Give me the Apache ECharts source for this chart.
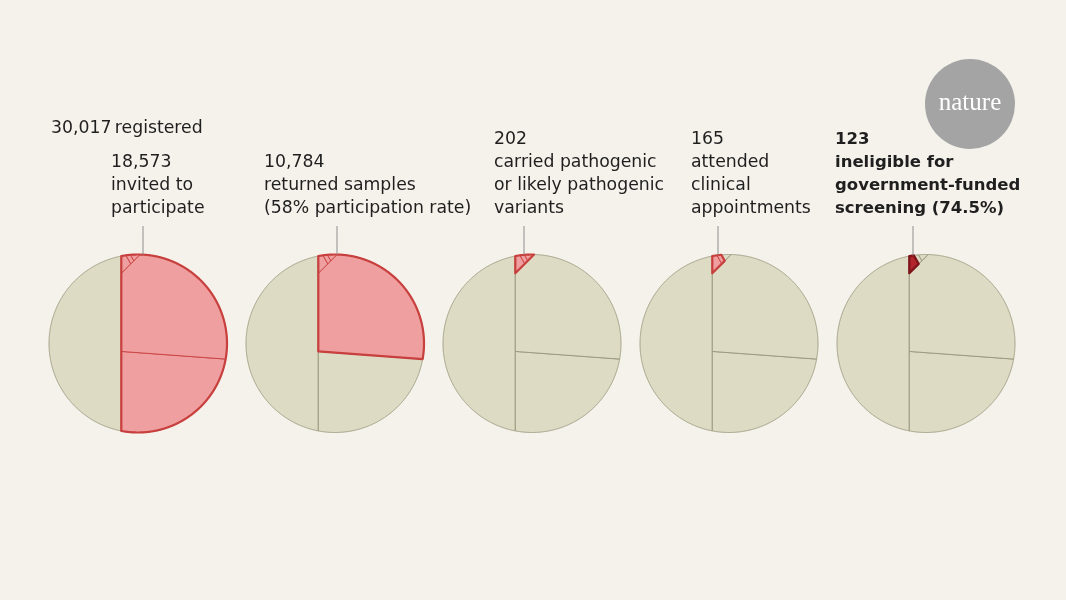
<!DOCTYPE html>
<html>
<head>
<meta charset="utf-8">
<script src="https://cdn.jsdelivr.net/npm/echarts@6/dist/echarts.min.js"></script>
<style>
html,body{margin:0;padding:0;background:#f5f2eb;}
#chart{width:1066px;height:600px;}
</style>
</head>
<body>
<div id="chart"></div>
<script>
// ---- data ----
const registered = 30017;
const registeredLabel = '30,017';
const stages = ['invited', 'returned', 'carried', 'attended', 'ineligible'];
const stageCounts = [18573, 10784, 202, 165, 123];
const stageNumberLabels = ['18,573', '10,784', '202', '165', '123'];
const stageTexts = [
  ['invited to', 'participate'],
  ['returned samples', '(58% participation rate)'],
  ['carried pathogenic', 'or likely pathogenic', 'variants'],
  ['attended', 'clinical', 'appointments'],
  ['ineligible for', 'government-funded', 'screening (74.5%)']
];

// ---- styles / layout ----
const BG = '#f5f2eb', BEIGE = '#dedbc5', OLIVE = '#97957a', PINK = '#ef9fa0',
      RED = '#c8403e', DARK = '#b2252c', DARKSTROKE = '#7e1419', TEXT = '#1f1f1f', LEADER = '#8e8e8e';
const FONT = '"DejaVu Sans", Inter, sans-serif';
const FS = 17.3, FS_BOLD = 16.5;
const textX = [111, 264, 494, 691, 835];
const rowY = [140, 163, 186, 209];
const leaderDx = [5, 2, -8, -11, -13];
const leaderTop = 226;
// split-line normals (unit circle coords, y up)
const deg = Math.PI / 180;
const splitNormals = [
  [1, 0],
  [Math.sin(4.2 * deg), Math.cos(4.2 * deg)],
  [-Math.SQRT1_2, Math.SQRT1_2],
  [-23 / Math.hypot(23, 13), -13 / Math.hypot(23, 13)],
  [-23 / Math.hypot(23, 13), -13 / Math.hypot(23, 13)]
];

// ---- geometry: partition a circle into areas proportional to counts ----
function area(poly) {
  let a = 0;
  for (let i = 0; i < poly.length; i++) {
    const p = poly[i], q = poly[(i + 1) % poly.length];
    a += p[0] * q[1] - q[0] * p[1];
  }
  return Math.abs(a) / 2;
}
function clip(poly, n, c, sign) {
  const out = [];
  const f = p => sign * (n[0] * p[0] + n[1] * p[1] - c);
  for (let i = 0; i < poly.length; i++) {
    const p = poly[i], q = poly[(i + 1) % poly.length];
    const fp = f(p), fq = f(q);
    if (fp >= 0) out.push(p);
    if ((fp >= 0) !== (fq >= 0)) {
      const t = fp / (fp - fq);
      out.push([p[0] + t * (q[0] - p[0]), p[1] + t * (q[1] - p[1])]);
    }
  }
  return out;
}
function split(poly, n, frac) {
  const proj = poly.map(p => n[0] * p[0] + n[1] * p[1]);
  let lo = Math.min(...proj), hi = Math.max(...proj);
  const total = area(poly);
  for (let it = 0; it < 80; it++) {
    const mid = (lo + hi) / 2;
    const a = area(clip(poly, n, mid, 1)) / total;
    if (a > frac) lo = mid; else hi = mid;
  }
  const c = (lo + hi) / 2;
  return [clip(poly, n, c, 1), clip(poly, n, c, -1)];
}
const circle = [];
for (let i = 0; i < 1440; i++) {
  const a = Math.PI / 2 - i / 1440 * 2 * Math.PI;
  circle.push([Math.cos(a), Math.sin(a)]);
}
const nodes = [];   // highlighted region for each stage
const leaves = [];  // remainder regions
let current = circle, parentCount = registered;
stageCounts.forEach((cnt, i) => {
  const [inside, rest] = split(current, splitNormals[i], cnt / parentCount);
  leaves.push(rest);
  nodes.push(inside);
  current = inside;
  parentCount = cnt;
});
leaves.push(current);

function topYAt(poly, x) {
  let best = -Infinity;
  for (let i = 0; i < poly.length; i++) {
    const p = poly[i], q = poly[(i + 1) % poly.length];
    if ((p[0] - x) * (q[0] - x) <= 0 && p[0] !== q[0]) {
      const t = (x - p[0]) / (q[0] - p[0]);
      best = Math.max(best, p[1] + t * (q[1] - p[1]));
    }
  }
  return best;
}

function renderItem(params, api) {
  const k = api.value(0);
  const c = api.coord([k, 0]);
  const R = api.size([0, 1])[1];
  const map = poly => poly.map(p => [c[0] + p[0] * R, c[1] - p[1] * R]);
  const children = [];
  const order = leaves.map((l, j) => j).sort((a, b) => (a >= k + 1) - (b >= k + 1));
  order.forEach(j => {
    const hi = j >= k + 1;
    const dark = k === 4 && j === 5;
    children.push({
      type: 'polygon', shape: { points: map(leaves[j]) },
      style: { fill: dark ? DARK : (hi ? PINK : BEIGE), stroke: dark ? DARKSTROKE : (hi ? RED : OLIVE), lineWidth: 0.9 }
    });
  });
  children.push({
    type: 'polygon', shape: { points: map(nodes[k]) },
    style: { fill: 'none', stroke: k === 4 ? DARKSTROKE : RED, lineWidth: 2.2, lineJoin: 'round' }
  });
  const ux = leaderDx[k] / R;
  const uy = topYAt(nodes[k], ux);
  children.push({
    type: 'line',
    shape: { x1: c[0] + leaderDx[k], y1: leaderTop, x2: c[0] + leaderDx[k], y2: c[1] - uy * R },
    style: { stroke: LEADER, lineWidth: 1 }
  });
  return { type: 'group', children };
}

// ---- text ----
const graphics = [];
graphics.push({
  type: 'text', x: 51, y: 129,
  style: {
    text: '{n|' + registeredLabel + '} {t|registered}', verticalAlign: 'middle',
    rich: {
      n: { fontFamily: FONT, fontSize: FS, fontWeight: 'normal', fill: TEXT },
      t: { fontFamily: FONT, fontSize: FS, fontWeight: 'normal', fill: TEXT }
    }
  }
});
stages.forEach((s, i) => {
  const lines = [stageNumberLabels[i]].concat(stageTexts[i]);
  const start = rowY.length - lines.length;
  lines.forEach((line, j) => {
    graphics.push({
      type: 'text', x: textX[i], y: rowY[start + j],
      style: {
        text: line, fill: TEXT, fontFamily: FONT, fontSize: i === 4 ? FS_BOLD : FS,
        fontWeight: i === 4 ? 'bold' : 'normal',
        verticalAlign: 'middle', align: 'left'
      }
    });
  });
});
graphics.push({ type: 'circle', shape: { cx: 970, cy: 104, r: 45 }, style: { fill: '#a4a4a4' } });
graphics.push({
  type: 'text', x: 970, y: 103,
  style: { text: 'nature', fill: '#ffffff', fontFamily: '"Liberation Serif", "DejaVu Serif", serif', fontSize: 25, align: 'center', verticalAlign: 'middle' }
});

const chart = echarts.init(document.getElementById('chart'), null, { renderer: 'canvas' });
chart.setOption({
  backgroundColor: BG,
  animation: false,
  grid: { left: 39.5, right: 41.5, top: 254.5, height: 178 },
  xAxis: { type: 'value', min: -0.5, max: 4.5, show: false },
  yAxis: { type: 'value', min: -1, max: 1, show: false },
  series: [{
    type: 'custom',
    renderItem,
    data: stages.map((s, i) => [i]),
    encode: { x: 0 },
    silent: true
  }],
  graphic: graphics
});
</script>
</body>
</html>
